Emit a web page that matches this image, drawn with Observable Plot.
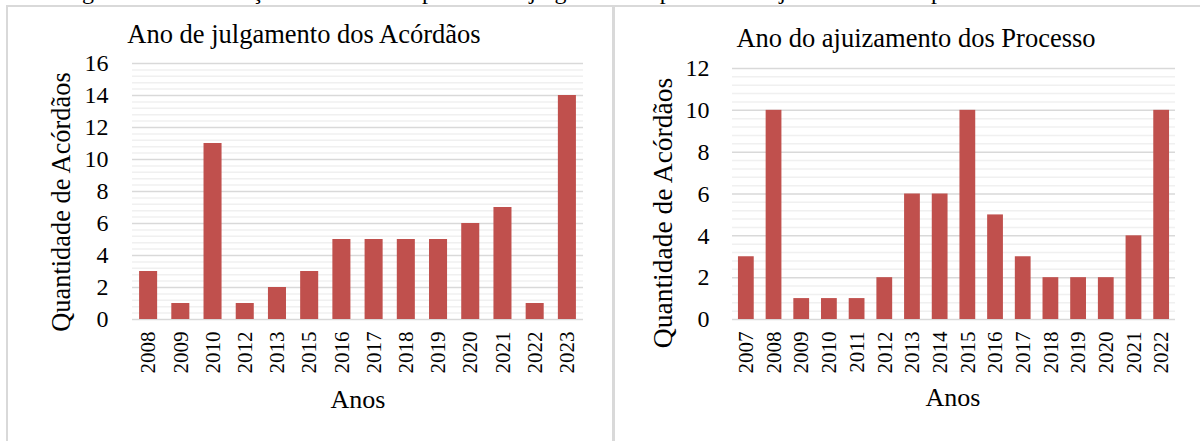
<!DOCTYPE html>
<html>
<head>
<meta charset="utf-8">
<script src="https://cdn.jsdelivr.net/npm/d3@7"></script>
<script src="https://cdn.jsdelivr.net/npm/@observablehq/plot@0.6"></script>
<style>
  html, body { margin: 0; padding: 0; background: #fff; }
  body { width: 1200px; height: 441px; position: relative; overflow: hidden; font-family: "Liberation Serif", serif; color: #000; }
  .abs { position: absolute; white-space: nowrap; }
  .caption { left: 62px; top: -22px; font-size: 24px; }
  .frame { left: 6px; top: 5px; width: 1300px; height: 600px; border-top: 2px solid #d9d9d9; border-left: 2px solid #d9d9d9; }
  .divider { left: 612px; top: 5px; width: 3px; height: 600px; background: #d9d9d9; }
  .title { font-size: 26.5px; transform: translateX(-50%); line-height: 1; }
  .ylab { transform: translate(-50%, -50%) rotate(-90deg); line-height: 1; }
  .xlab { font-size: 26px; transform: translateX(-50%); line-height: 1; }
  .chart svg, .chart svg text { font-family: "Liberation Serif", serif !important; }
</style>
</head>
<body>
<div class="abs caption">Figura 5 – Distribuição dos acórdãos por ano de julgamento e por ano do ajuizamento dos processos</div>
<div class="abs frame"></div>
<div class="abs divider"></div>
<div id="c1" class="abs chart" style="left:0px; top:0px"></div>
<div id="c2" class="abs chart" style="left:600px; top:0px"></div>
<div class="abs title" style="left:304px; top:21px">Ano de julgamento dos Acórdãos</div>
<div class="abs title" style="left:916px; top:25px">Ano do ajuizamento dos Processo</div>
<div class="abs ylab" style="left:61px; top:202px; font-size:26.4px">Quantidade de Acórdãos</div>
<div class="abs ylab" style="left:663px; top:213px; font-size:27.5px">Quantidade de Acórdãos</div>
<div class="abs xlab" style="left:358px; top:387px">Anos</div>
<div class="abs xlab" style="left:953px; top:385px">Anos</div>
<script>
// Left chart: Ano de julgamento dos Acórdãos
const yearsJulgamento = ["2008","2009","2010","2012","2013","2015","2016","2017","2018","2019","2020","2021","2022","2023"];
const countsJulgamento = [3, 1, 11, 1, 2, 3, 5, 5, 5, 5, 6, 7, 1, 14];
const yTicksJulgamento = [0, 2, 4, 6, 8, 10, 12, 14, 16];

// Right chart: Ano do ajuizamento dos Processo
const yearsAjuizamento = ["2007","2008","2009","2010","2011","2012","2013","2014","2015","2016","2017","2018","2019","2020","2021","2022"];
const countsAjuizamento = [3, 10, 1, 1, 1, 2, 6, 6, 10, 5, 3, 2, 2, 2, 4, 10];
const yTicksAjuizamento = [0, 2, 4, 6, 8, 10, 12];

const barColor = "#c0504d";
const fontFamily = "Liberation Serif";

function minorTicks(max, step, majorStep) {
  const out = [];
  for (let i = 0; i * step <= max + 1e-9; i++) {
    const v = +(i * step).toFixed(6);
    if (Math.abs(v / majorStep - Math.round(v / majorStep)) > 1e-6) out.push(v);
  }
  return out;
}

function makeChart({years, counts, ticks, ymax, marginLeft, marginRight, marginTop, padding, tickPad}) {
  const data = years.map((y, i) => ({year: y, count: counts[i]}));
  return Plot.plot({
    width: 600,
    height: 441,
    marginLeft, marginRight, marginTop,
    marginBottom: 122,
    style: {fontFamily, color: "#000", background: "transparent", overflow: "visible"},
    x: {type: "band", domain: years, paddingInner: padding, paddingOuter: padding / 2, round: false, label: null},
    y: {domain: [0, ymax], label: null},
    marks: [
      Plot.ruleY(minorTicks(ymax, 0.4, 2), {stroke: "#f0f0f0", strokeWidth: 1.5}),
      Plot.ruleY(ticks, {stroke: "#d9d9d9", strokeWidth: 1.5}),
      Plot.barY(data, {x: "year", y: "count", fill: barColor}),
      Plot.axisY({ticks, tickSize: 0, tickPadding: tickPad, fontSize: 24, fontFamily, label: null}),
      Plot.axisX({tickSize: 0, tickRotate: -90, tickPadding: 12, fontSize: 21, fontFamily, label: null})
    ]
  });
}

document.getElementById("c1").append(makeChart({
  years: yearsJulgamento, counts: countsJulgamento, ticks: yTicksJulgamento, ymax: 16,
  marginLeft: 132, marginRight: 17, marginTop: 63, padding: 0.44, tickPad: 24
}));
document.getElementById("c2").append(makeChart({
  years: yearsAjuizamento, counts: countsAjuizamento, ticks: yTicksAjuizamento, ymax: 12,
  marginLeft: 132, marginRight: 25, marginTop: 68, padding: 0.43, tickPad: 23
}));
</script>
</body>
</html>
